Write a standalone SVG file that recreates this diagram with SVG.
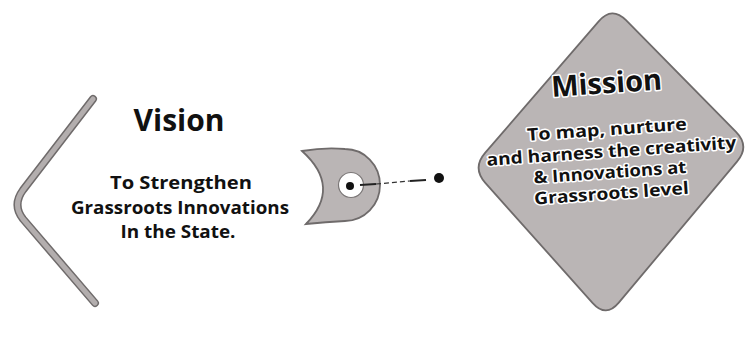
<svg xmlns="http://www.w3.org/2000/svg" width="755" height="349" viewBox="0 0 755 349">
  <style>
    .title { font-family: "Open Sans", "Liberation Sans", sans-serif; font-weight: 700; fill: #111; text-anchor: middle; }
    .body { font-family: "Open Sans", "Liberation Sans", sans-serif; font-weight: 700; font-size: 17px; fill: #111; text-anchor: middle; }
    .halo { paint-order: stroke; stroke: #ffffff; stroke-width: 3px; stroke-linejoin: round; }
    .shape { fill: #bab5b5; stroke: #6f6b6b; stroke-width: 1.8; }
  </style>
  <rect width="755" height="349" fill="#ffffff"/>

  <g id="vision">
    <path d="M93,99 L23,190 Q12,205 23,219 L95,303" fill="none" stroke="#6f6b6b" stroke-width="8" stroke-linecap="round" stroke-linejoin="round"/>
    <path d="M93,99 L23,190 Q12,205 23,219 L95,303" fill="none" stroke="#b3aeae" stroke-width="5" stroke-linecap="round" stroke-linejoin="round"/>
    <text class="title" x="179" y="131" font-size="30">Vision</text>
    <text class="body" x="181" y="189" textLength="142" lengthAdjust="spacingAndGlyphs">To Strengthen</text>
    <text class="body" x="180" y="214" textLength="218" lengthAdjust="spacingAndGlyphs">Grassroots Innovations</text>
    <text class="body" x="178" y="238" textLength="115" lengthAdjust="spacingAndGlyphs">In the State.</text>
  </g>

  <g id="hub">
    <path class="shape" d="M302,151 Q325,147 345,149 A35,36 0 0 1 345,221 Q326,222 306,224 Q342,187 302,151 Z"/>
    <circle cx="351" cy="185" r="12.5" fill="#ffffff" stroke="#7a7676" stroke-width="1.2"/>
    <circle cx="350" cy="186" r="4" fill="#111"/>
  </g>

  <g id="connectors">
    <line x1="360" y1="185" x2="376" y2="184" stroke="#222" stroke-width="2.2"/>
    <line x1="376" y1="184" x2="410" y2="181" stroke="#333" stroke-width="1.2" stroke-dasharray="5 3"/>
    <line x1="410" y1="181" x2="426" y2="180" stroke="#222" stroke-width="2.2"/>
    <circle cx="439" cy="178" r="5" fill="#111"/>
  </g>

  <g id="mission">
    <path class="shape" d="M598.9,21.1 Q612,6 626,20.2 L736,131.8 Q750,146 737.2,161.3 L618.8,302.7 Q606,318 592.7,303.1 L485.3,182.9 Q472,168 485.1,152.9 Z"/>
    <g transform="rotate(-4 612 160)">
      <text class="title halo" x="612" y="93" font-size="29">Mission</text>
      <text class="body halo" x="609" y="135" textLength="160" lengthAdjust="spacingAndGlyphs">To map, nurture</text>
      <text class="body halo" x="612" y="157" textLength="250" lengthAdjust="spacingAndGlyphs">and harness the creativity</text>
      <text class="body halo" x="609" y="178" textLength="153" lengthAdjust="spacingAndGlyphs">&amp; Innovations at</text>
      <text class="body halo" x="609" y="199" textLength="155" lengthAdjust="spacingAndGlyphs">Grassroots level</text>
    </g>
  </g>
</svg>
